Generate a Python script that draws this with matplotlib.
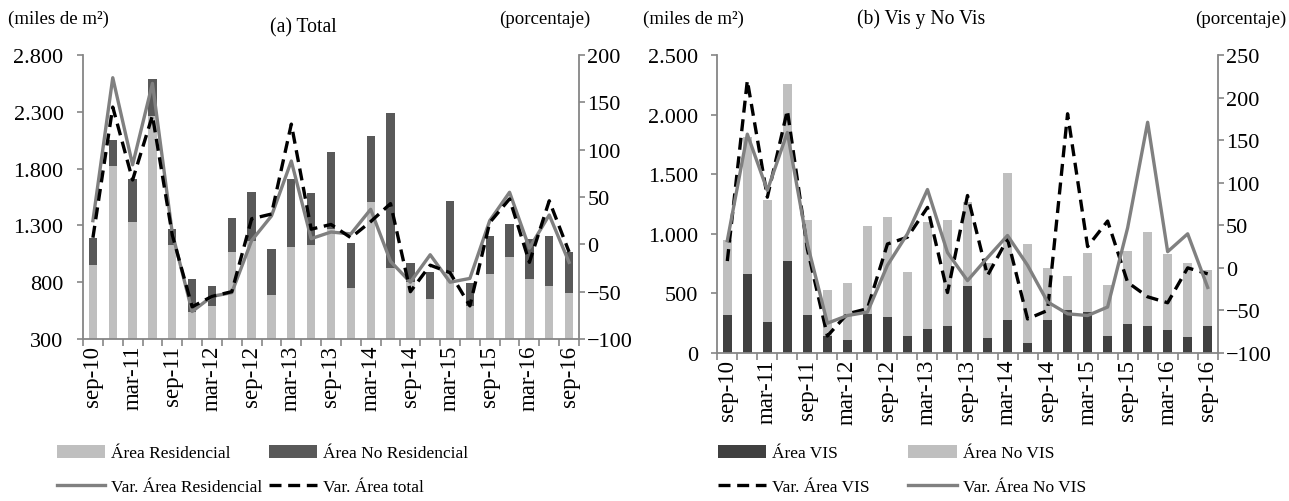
import numpy as np
import matplotlib.pyplot as plt
from matplotlib.ticker import FuncFormatter, MultipleLocator, FixedLocator

plt.rcParams['font.family'] = ['Liberation Serif', 'DejaVu Serif']

# Quarterly periods, sep-10 .. sep-16
quarters = ['sep-10', 'dic-10', 'mar-11', 'jun-11', 'sep-11', 'dic-11', 'mar-12',
            'jun-12', 'sep-12', 'dic-12', 'mar-13', 'jun-13', 'sep-13', 'dic-13',
            'mar-14', 'jun-14', 'sep-14', 'dic-14', 'mar-15', 'jun-15', 'sep-15',
            'dic-15', 'mar-16', 'jun-16', 'sep-16']
tick_labels = [q if q[:3] in ('sep', 'mar') else '' for q in quarters]

# (a) Total, miles de m2
area_residencial = [950, 1820, 1333, 2260, 1127, 535, 593, 1063, 1165, 690, 1113, 1127, 1265,
                    750, 1505, 922, 800, 655, 887, 590, 872, 1019, 828, 764, 702]
area_no_residencial = [239, 234, 375, 329, 141, 290, 171, 299, 432, 402, 595, 455, 678,
                       392, 580, 1367, 167, 237, 631, 203, 332, 293, 352, 440, 361]
# porcentaje
var_residencial = [25, 176, 84, 170, 12, -71, -55, -51, 4, 30, 88, 6, 13,
                   11, 37, -18, -40, -11, -40, -36, 25, 55, -4, 31, -19]
var_total = [7, 145, 68, 136, 10, -66, -55, -50, 27, 32, 127, 16, 21,
             7, 24, 43, -50, -22, -30, -65, 23, 48, -19, 46, -8]

# (b) Vis y No Vis, miles de m2
area_vis = [319, 663, 260, 768, 319, 140, 110, 327, 305, 140, 201, 229, 559,
            123, 277, 81, 273, 361, 348, 140, 243, 229, 196, 137, 229]
area_no_vis = [629, 1147, 1025, 1486, 797, 390, 480, 741, 838, 542, 895, 887, 708,
               632, 1233, 837, 437, 289, 492, 433, 615, 783, 634, 615, 467]
# porcentaje
var_vis = [8, 220, 83, 185, 22, -80, -54, -48, 28, 36, 71, -29, 85,
           -9, 34, -60, -50, 181, 25, 55, -17, -34, -41, 0, -7]
var_no_vis = [32, 157, 91, 159, 28, -65, -56, -52, 3, 40, 92, 18, -15,
              12, 38, 3, -40, -54, -56, -46, 47, 171, 19, 40, -23]

LIGHT = '#bfbfbf'
DARK_A = '#595959'
DARK_B = '#404040'
LINE_GRAY = '#808080'
SPINE = '#868686'
TICK_FS = 16
XTICK_FS = 16.5
LEG_FS = 12.5
HEAD_FS = 13.6

fmt_miles = FuncFormatter(lambda v, p: f'{int(round(v)):,}'.replace(',', '.'))

fig = plt.figure(figsize=(12.89, 5.02), dpi=100)


def style_axes(ax, ax2):
    for a in (ax, ax2):
        a.spines['top'].set_visible(False)
        for s in ('left', 'right', 'bottom'):
            a.spines[s].set_color(SPINE)
            a.spines[s].set_linewidth(1.3)
    ax2.spines['left'].set_visible(False)
    ax2.spines['bottom'].set_visible(False)
    ax.spines['right'].set_visible(False)
    ax.tick_params(axis='y', direction='out', length=4, width=1.2, color=SPINE,
                   labelsize=TICK_FS, pad=10)
    ax2.tick_params(axis='y', direction='out', length=4, width=1.2, color=SPINE,
                    labelsize=TICK_FS, pad=2)
    n = len(quarters)
    ax.set_xlim(-0.5, n - 0.5)
    ax.set_xticks(np.arange(n))
    ax.set_xticklabels(tick_labels, rotation=90, fontsize=XTICK_FS)
    ax.xaxis.set_minor_locator(FixedLocator(np.arange(-0.5, n, 1.0)))
    ax.tick_params(axis='x', which='major', length=0, pad=4)
    ax.tick_params(axis='x', which='minor', direction='out', length=5, width=1.2, color=SPINE)


x = np.arange(len(quarters))
bw = 0.42
leg_kw = dict(ncol=2, loc='upper left', bbox_transform=fig.transFigure, frameon=False,
              fontsize=LEG_FS, handlelength=2.8, handleheight=0.8, handletextpad=0.35,
              labelspacing=1.0)

# ---- (a) Total ----
ax1 = fig.add_axes([83 / 1289, 1 - 340 / 502, 496 / 1289, 284 / 502])
ax1b = ax1.twinx()
ax1.bar(x, area_residencial, bw, color=LIGHT, label='Área Residencial', zorder=2)
ax1.bar(x, area_no_residencial, bw, bottom=area_residencial, color=DARK_A,
        label='Área No Residencial', zorder=2)
ax1.set_ylim(300, 2800)
ax1.yaxis.set_major_locator(FixedLocator(np.arange(300, 2801, 500)))
ax1.yaxis.set_major_formatter(fmt_miles)
l1, = ax1b.plot(x, var_residencial, color=LINE_GRAY, lw=2.4, label='Var. Área Residencial')
l2, = ax1b.plot(x, var_total, color='black', lw=2.4, dashes=(3.6, 2.0),
                label='Var. Área total')
ax1b.set_ylim(-100, 200)
ax1b.yaxis.set_major_locator(MultipleLocator(50))
style_axes(ax1, ax1b)

h1, lab1 = ax1.get_legend_handles_labels()
ax1b.legend([h1[0], l1, h1[1], l2], [lab1[0], l1.get_label(), lab1[1], l2.get_label()],
            bbox_to_anchor=(41 / 1289, 1 - 430 / 502), columnspacing=0.35, **leg_kw)

# ---- (b) Vis y No Vis ----
ax2 = fig.add_axes([717.3 / 1289, 1 - 354 / 502, 500.4 / 1289, 298 / 502])
ax2b = ax2.twinx()
ax2.bar(x, area_vis, bw, color=DARK_B, label='Área VIS', zorder=2)
ax2.bar(x, area_no_vis, bw, bottom=area_vis, color=LIGHT, label='Área No VIS', zorder=2)
ax2.set_ylim(0, 2500)
ax2.yaxis.set_major_locator(MultipleLocator(500))
ax2.yaxis.set_major_formatter(fmt_miles)
l3, = ax2b.plot(x, var_vis, color='black', lw=2.4, dashes=(3.6, 2.0), label='Var. Área VIS')
l4, = ax2b.plot(x, var_no_vis, color=LINE_GRAY, lw=2.4, label='Var. Área No VIS')
ax2b.set_ylim(-100, 250)
ax2b.yaxis.set_major_locator(MultipleLocator(50))
style_axes(ax2, ax2b)

h2, lab2 = ax2.get_legend_handles_labels()
ax2b.legend([h2[0], l3, h2[1], l4], [lab2[0], l3.get_label(), lab2[1], l4.get_label()],
            bbox_to_anchor=(702 / 1289, 1 - 430 / 502), columnspacing=2.2, **leg_kw)

fig.text(0.006, 0.962, '(miles de m²)', fontsize=HEAD_FS, ha='left', va='center')
fig.text(590 / 1289, 0.962, '(porcentaje)', fontsize=HEAD_FS, ha='right', va='center')
fig.text(303 / 1289, 0.945, '(a) Total', fontsize=HEAD_FS + 0.5, ha='center', va='center')
fig.text(643 / 1289, 0.962, '(miles de m²)', fontsize=HEAD_FS, ha='left', va='center')
fig.text(1286 / 1289, 0.962, '(porcentaje)', fontsize=HEAD_FS, ha='right', va='center')
fig.text(921 / 1289, 0.962, '(b) Vis y No Vis', fontsize=HEAD_FS + 0.5, ha='center',
         va='center')

fig.savefig('out.png', dpi=100)
